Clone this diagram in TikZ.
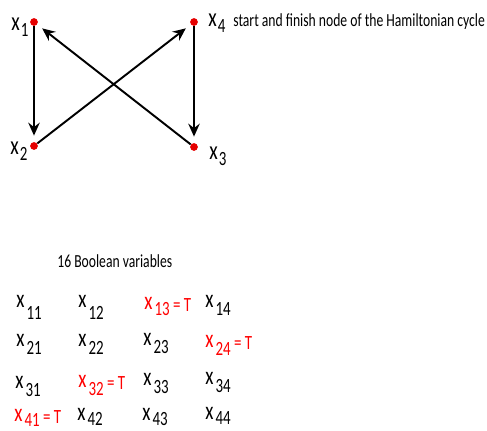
\documentclass[tikz,border=0pt]{standalone}
\usepackage{fontspec}
\setmainfont{Carlito}[FakeStretch=0.74]
\usetikzlibrary{arrows.meta,positioning}
% graph label: x with a lowered index
\newcommand{\gv}[1]{x\kern0.6pt\raisebox{-3.4pt}{\fontsize{11.5}{11.5}\selectfont #1}}
% table entry: x with a lowered index (optional: how far it is lowered)
\newcommand{\tv}[2][-4pt]{x\kern1.2pt\raisebox{#1}{\fontsize{11.5}{11.5}\selectfont #2}}
\newcommand{\eqT}{\raisebox{-1pt}{\fontsize{11.5}{11.5}\selectfont \,=\,T}}
\tikzset{
  vertex/.style={circle, fill=red!90!black, inner sep=0pt, minimum size=4.4pt},
  vlabel/.style={anchor=base west, inner sep=0pt, font=\fontsize{15}{15}\selectfont},
  var/.style={anchor=base west, inner sep=0pt, font=\fontsize{14.5}{14.5}\selectfont},
  truevar/.style={var, text=red},
  edge/.style={-{Stealth[length=2.6mm,width=2.3mm,inset=0.9mm]}, line width=1.1pt},
  caption/.style={anchor=base west, inner sep=0pt, font=\fontsize{10.5}{10.5}\selectfont}
}
\begin{document}
\begin{tikzpicture}[x=0.02cm,y=-0.02cm]
  \useasboundingbox (0,0) rectangle (487,431);

  % graph of the cycle
  \node[vertex] (v1) at (34,22) {};
  \node[vertex] (v2) at (34,146) {};
  \node[vertex] (v3) at (194,147) {};
  \node[vertex] (v4) at (194,22) {};

  \node[vlabel] (l1) at (11,31) {\gv{1}};
  \node[vlabel] (l2) at (10,155) {\gv{2}};
  \node[vlabel] (l3) at (209,160) {\gv{3}};
  \node[vlabel] (l4) at (208,27) {\gv{4}};
  \node[caption] (start) at (233,27) {start and finish node of the Hamiltonian cycle};

  \draw[edge, shorten >=3.5pt] (v1) -- (v2);
  \draw[edge, shorten >=3.5pt] (v2) -- (v4);
  \draw[edge, shorten >=3.5pt] (v4) -- (v3);
  \draw[edge, shorten >=3.5pt] (v3) -- (v1);

  % boolean variables
  \node[caption] (title) at (57,268) {16 Boolean variables};

  \node[var] (x11) at (16,308) {\tv[-6.5pt]{11}};
  \node[var] (x12) at (78,308) {\tv[-6.5pt]{12}};
  \node[truevar] (x13) at (144,310) {\tv[-3.4pt]{13}\eqT};
  \node[var] (x14) at (205,308) {\tv{14}};

  \node[var] (x21) at (16,347) {\tv{21}};
  \node[var] (x22) at (78,347) {\tv{22}};
  \node[var] (x23) at (143,346) {\tv{23}};
  \node[truevar] (x24) at (205,348) {\tv{24}\eqT};

  \node[var] (x31) at (15,389) {\tv{31}};
  \node[truevar] (x32) at (78,388) {\tv{32}\eqT};
  \node[var] (x33) at (143,386) {\tv{33}};
  \node[var] (x34) at (205,385) {\tv{34}};

  \node[truevar] (x41) at (14,422) {\tv[-2.6pt]{41}\eqT};
  \node[var] (x42) at (77,421) {\tv[-2.6pt]{42}};
  \node[var] (x43) at (142,421) {\tv[-2.6pt]{43}};
  \node[var] (x44) at (205,420) {\tv[-2.6pt]{44}};
\end{tikzpicture}
\end{document}
